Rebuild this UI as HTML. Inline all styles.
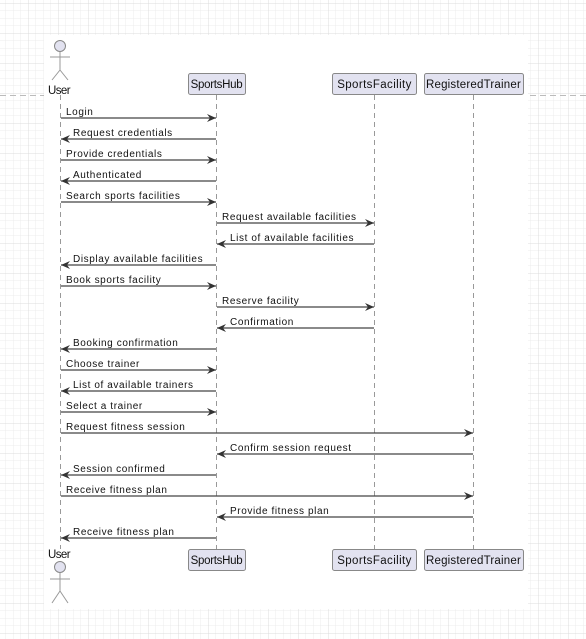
<!DOCTYPE html>
<html><head><style>
html,body{margin:0;padding:0;width:586px;height:639px;overflow:hidden;background:#fff}
</style></head><body>
<svg width="586" height="639" xmlns="http://www.w3.org/2000/svg" font-family="Liberation Sans, sans-serif">
<defs>
<pattern id="minor" width="7.5" height="7.5" patternUnits="userSpaceOnUse" x="28" y="3">
<path d="M0 0H7.5M0 0V7.5" stroke="#ececec" stroke-width="1" fill="none"/></pattern>
<pattern id="major" width="30" height="30" patternUnits="userSpaceOnUse" x="28" y="3">
<path d="M0 0H30M0 0V30" stroke="#dcdcdc" stroke-width="1" fill="none"/></pattern>
<marker id="a" markerWidth="10" markerHeight="8" refX="9" refY="4" orient="auto" markerUnits="userSpaceOnUse">
<path d="M0 0L9 4L0 8L3 4Z" fill="#333"/></marker>
</defs>
<rect width="586" height="639" fill="#fff"/>
<rect width="586" height="639" fill="url(#minor)"/>
<rect width="586" height="639" fill="url(#major)"/>
<line x1="0" y1="95.5" x2="586" y2="95.5" stroke="#bbb" stroke-dasharray="6,4"/>
<rect x="44" y="35" width="484" height="574" fill="#fff"/>
<g stroke="#999" stroke-dasharray="5,4">
<line x1="60.5" y1="95" x2="60.5" y2="549"/>
<line x1="216.5" y1="95" x2="216.5" y2="549"/>
<line x1="374.5" y1="95" x2="374.5" y2="549"/>
<line x1="473.5" y1="95" x2="473.5" y2="549"/>
</g>
<g fill="#e2e2f0" stroke="#888" stroke-width="1">
<rect x="188.5" y="73.5" width="57" height="21" rx="2"/>
<rect x="332.5" y="73.5" width="84" height="21" rx="2"/>
<rect x="424.5" y="73.5" width="99" height="21" rx="2"/>
<rect x="188.5" y="549.5" width="57" height="21" rx="2"/>
<rect x="332.5" y="549.5" width="84" height="21" rx="2"/>
<rect x="424.5" y="549.5" width="99" height="21" rx="2"/>
<circle cx="60" cy="46" r="5.5"/>
<circle cx="60" cy="567" r="5.5"/>
</g>
<g stroke="#999" fill="none">
<path d="M60 52V70M50 57H70M52 80L60 70L68 80"/>
<path d="M60 573V591M50 579H70M52 603L60 591L68 603"/>
</g>
<g font-size="11.5" fill="#111" text-anchor="middle">
<text x="216.5" y="88" letter-spacing="-0.3">SportsHub</text>
<text x="374.5" y="88" letter-spacing="0.4">SportsFacility</text>
<text x="473.5" y="88" letter-spacing="0.2">RegisteredTrainer</text>
<text x="216.5" y="564" letter-spacing="-0.3">SportsHub</text>
<text x="374.5" y="564" letter-spacing="0.4">SportsFacility</text>
<text x="473.5" y="564" letter-spacing="0.2">RegisteredTrainer</text>
<text x="59" y="94" letter-spacing="-0.6">User</text>
<text x="59" y="558" letter-spacing="-0.6">User</text>
</g>
<g stroke="#444" stroke-width="1.2" marker-end="url(#a)">
<line x1="61" y1="118" x2="216" y2="118"/>
<line x1="216" y1="139" x2="61" y2="139"/>
<line x1="61" y1="160" x2="216" y2="160"/>
<line x1="216" y1="181" x2="61" y2="181"/>
<line x1="61" y1="202" x2="216" y2="202"/>
<line x1="217" y1="223" x2="374" y2="223"/>
<line x1="374" y1="244" x2="217" y2="244"/>
<line x1="216" y1="265" x2="61" y2="265"/>
<line x1="61" y1="286" x2="216" y2="286"/>
<line x1="217" y1="307" x2="374" y2="307"/>
<line x1="374" y1="328" x2="217" y2="328"/>
<line x1="216" y1="349" x2="61" y2="349"/>
<line x1="61" y1="370" x2="216" y2="370"/>
<line x1="216" y1="391" x2="61" y2="391"/>
<line x1="61" y1="412" x2="216" y2="412"/>
<line x1="61" y1="433" x2="473" y2="433"/>
<line x1="473" y1="454" x2="217" y2="454"/>
<line x1="216" y1="475" x2="61" y2="475"/>
<line x1="61" y1="496" x2="473" y2="496"/>
<line x1="473" y1="517" x2="217" y2="517"/>
<line x1="216" y1="538" x2="61" y2="538"/>
</g>
<g font-size="10" fill="#111" letter-spacing="0.6">
<text x="66" y="115">Login</text>
<text x="73" y="136">Request credentials</text>
<text x="66" y="157">Provide credentials</text>
<text x="73" y="178">Authenticated</text>
<text x="66" y="199">Search sports facilities</text>
<text x="222" y="220">Request available facilities</text>
<text x="230" y="241">List of available facilities</text>
<text x="73" y="262">Display available facilities</text>
<text x="66" y="283">Book sports facility</text>
<text x="222" y="304">Reserve facility</text>
<text x="230" y="325">Confirmation</text>
<text x="73" y="346">Booking confirmation</text>
<text x="66" y="367">Choose trainer</text>
<text x="73" y="388">List of available trainers</text>
<text x="66" y="409">Select a trainer</text>
<text x="66" y="430">Request fitness session</text>
<text x="230" y="451">Confirm session request</text>
<text x="73" y="472">Session confirmed</text>
<text x="66" y="493">Receive fitness plan</text>
<text x="230" y="514">Provide fitness plan</text>
<text x="73" y="535">Receive fitness plan</text>
</g>
</svg>
</body></html>
